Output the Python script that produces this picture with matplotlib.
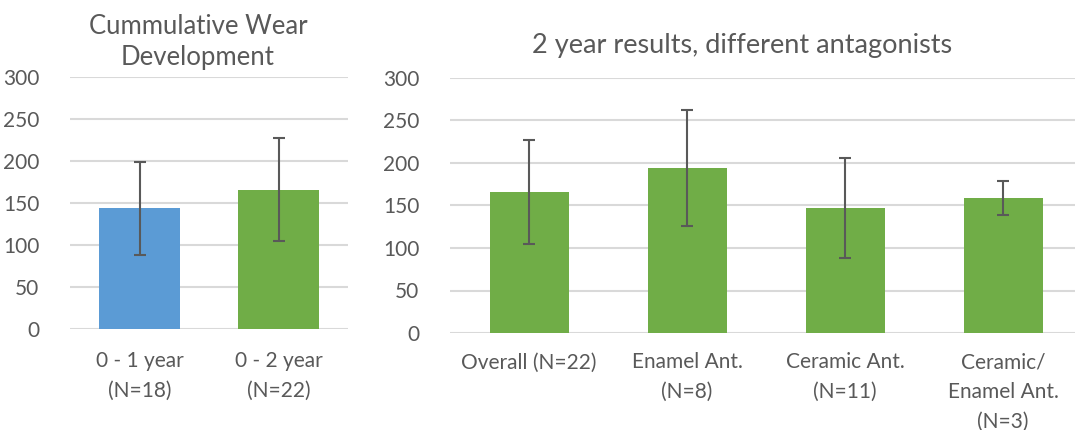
import matplotlib
matplotlib.use("Agg")
import matplotlib.pyplot as plt
import numpy as np

# left panel: cumulative wear
cumLabels = ["0 - 1 year\n(N=18)", "0 - 2 year\n(N=22)"]
cumValues = [144, 166]
cumErrLow = [56, 61]
cumErrHigh = [55, 61]

# right panel: 2 year results by antagonist
antLabels = ["Overall (N=22)", "Enamel Ant.\n(N=8)", "Ceramic Ant.\n(N=11)", "Ceramic/\nEnamel Ant.\n(N=3)"]
antValues = [166, 194, 147, 159]
antErrLow = [61, 68, 59, 20]
antErrHigh = [61, 68, 59, 20]

yTicks = [0, 50, 100, 150, 200, 250, 300]

plt.rcParams['font.family'] = ['Lato', 'DejaVu Sans']
textColor = "#595959"
gridColor = "#D9D9D9"
blue = "#5B9BD5"
green = "#70AD47"

fig = plt.figure(figsize=(10.75, 4.3), dpi=100)

def styleAxes(ax, labels, pad):
  ax.set_ylim(0, 300)
  ax.set_yticks(yTicks)
  ax.set_xlim(-0.5, len(labels) - 0.5)
  ax.set_xticks(np.arange(len(labels)))
  ax.set_xticklabels(labels, linespacing=1.6)
  for s in ax.spines.values():
    s.set_visible(False)
  ax.yaxis.grid(True, color=gridColor, linewidth=1.5)
  ax.set_axisbelow(True)
  ax.tick_params(axis="both", length=0, colors=textColor, labelsize=15)
  ax.tick_params(axis="y", pad=22)
  ax.tick_params(axis="x", pad=pad)

# left chart
ax1 = fig.add_axes([70/1075, 1 - 329/430, 278/1075, 252/430])
ax1.bar(np.arange(len(cumValues)), cumValues, width=0.58, color=[blue, green], zorder=2)
ax1.errorbar(np.arange(len(cumValues)), cumValues, yerr=[cumErrLow, cumErrHigh], fmt="none",
             ecolor=textColor, elinewidth=1.5, capsize=4, capthick=1.5, zorder=3)
styleAxes(ax1, cumLabels, 16)
fig.text(198/1075, 1 - 42/430, "Cummulative Wear\nDevelopment", ha="center", va="center",
         fontsize=18.5, color=textColor, linespacing=1.3)

# right chart
ax2 = fig.add_axes([450/1075, 1 - 333/430, 632/1075, 255/430])
ax2.bar(np.arange(len(antValues)), antValues, width=0.5, color=green, zorder=2)
ax2.errorbar(np.arange(len(antValues)), antValues, yerr=[antErrLow, antErrHigh], fmt="none",
             ecolor=textColor, elinewidth=1.5, capsize=4, capthick=1.5, zorder=3)
styleAxes(ax2, antLabels, 14)
fig.text(742/1075, 1 - 45/430, "2 year results, different antagonists", ha="center", va="center",
         fontsize=19.5, color=textColor)

fig.savefig("out.png", dpi=100)
